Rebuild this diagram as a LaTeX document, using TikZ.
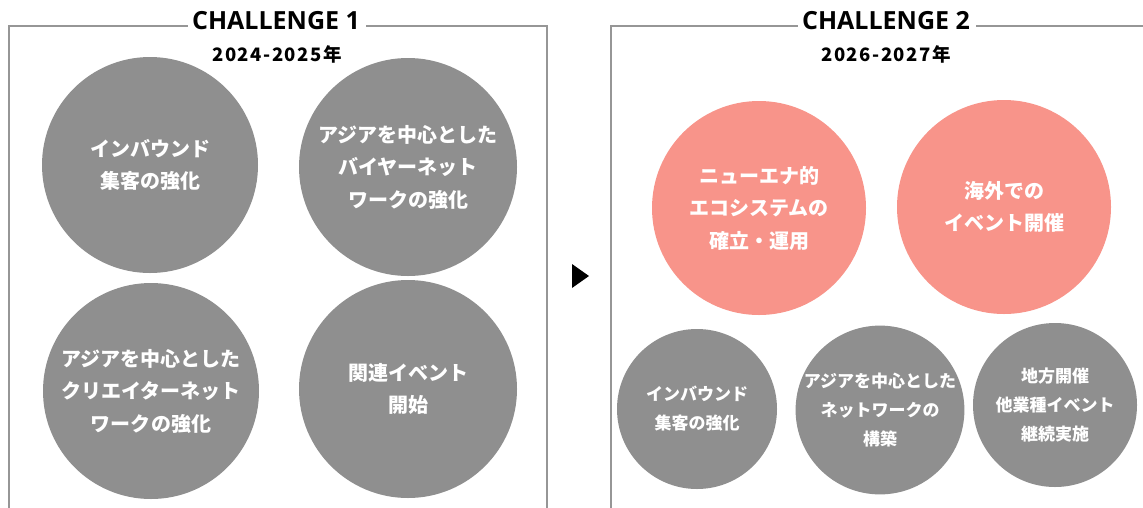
\documentclass[tikz,border=0pt]{standalone}
\usepackage{fontspec}
\newfontfamily\jp{Noto Sans CJK JP}
\newfontfamily\jpyear[LetterSpace=8]{Noto Sans CJK JP}
\newfontfamily\ttl{Open Sans}
\definecolor{cgray}{RGB}{143,143,143}
\definecolor{cpink}{RGB}{248,148,138}
\definecolor{cline}{RGB}{150,150,150}
\begin{document}
\begin{tikzpicture}[x=1pt,y=-1pt,
  ball/.style={circle, fill=cgray, minimum size=#1, inner sep=0pt, text=white, align=center},
  pball/.style={ball=#1, fill=cpink},
  big/.style={font=\jp\bfseries\fontsize{20}{32.5}\selectfont},
  small/.style={font=\jp\bfseries\fontsize{17}{29}\selectfont},
  title/.style={font=\ttl\bfseries\fontsize{25}{25}\selectfont, inner sep=0pt},
  year/.style={font=\jpyear\bfseries\fontsize{18.5}{18.5}\selectfont, inner sep=0pt},
  frame/.style={draw=cline, line width=1.3pt}]
\useasboundingbox (0,0) rectangle (1143,507);
\fill[white] (0,0) rectangle (1143,507);

% Challenge 1 frame
\node[title] (t1) at (276,21) {CHALLENGE 1};
\node[year] (y1) at (277,54) {2024-2025年};
\coordinate (a1) at (9,26);
\coordinate (a2) at (9,515);
\coordinate (b1) at (547,26);
\coordinate (b2) at (547,515);
\draw[frame] ([xshift=-4pt]t1.west |- a1) -- (a1) -- (a2);
\draw[frame] ([xshift=6pt]t1.east |- b1) -- (b1) -- (b2);

% Challenge 2 frame
\node[title] (t2) at (886,21) {CHALLENGE 2};
\node[year] (y2) at (886,54) {2026-2027年};
\coordinate (c1) at (611,26);
\coordinate (c2) at (611,515);
\coordinate (d1) at (1150,26);
\draw[frame] ([xshift=-4pt]t2.west |- c1) -- (c1) -- (c2);
\draw[frame] ([xshift=6pt]t2.east |- d1) -- (d1);

% arrow
\fill[black] (572,264) -- (572,288) -- (589,276) -- cycle;

% left circles
\node[ball=216pt, big] (n1) at (150,165) {インバウンド\\集客の強化};
\node[ball=218pt, big] (n2) at (408,167) {アジアを中心とした\\バイヤーネット\\ワークの強化};
\node[ball=216pt, big] (n3) at (151,391) {アジアを中心とした\\クリエイターネット\\ワークの強化};
\node[ball=218pt, big] (n4) at (408,389) {関連イベント\\開始};

% right circles
\node[pball=214pt, big] (n5) at (759,208) {ニューエナ的\\エコシステムの\\確立・運用};
\node[pball=214pt, big] (n6) at (1004,207) {海外での\\イベント開催};
\node[ball=160pt, small] (n7) at (697,409) {インバウンド\\集客の強化};
\node[ball=162pt, small] (n8) at (880,410) {アジアを中心とした\\ネットワークの\\構築};
\node[ball=164pt, small] (n9) at (1055,405) {地方開催\\他業種イベント\\継続実施};
\end{tikzpicture}
\end{document}
